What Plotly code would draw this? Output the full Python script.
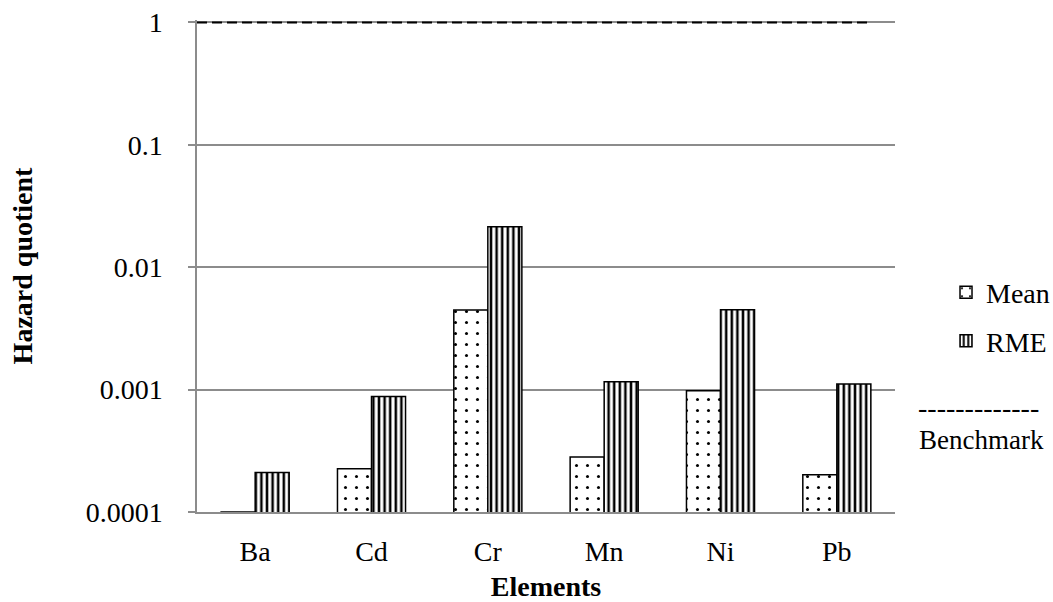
import plotly.graph_objects as go

# Hazard quotients per element
categories = ["Ba", "Cd", "Cr", "Mn", "Ni", "Pb"]
mean_hq = [0.0001, 0.000226, 0.00448, 0.000281, 0.000978, 0.000202]
rme_hq = [0.00021, 0.00088, 0.0214, 0.00116, 0.0045, 0.00111]
benchmark_hq = 1.0

tick_vals = [0.0001, 0.001, 0.01, 0.1, 1]
tick_text = ["0.0001", "0.001", "0.01", "0.1", "1"]

SERIF = "Liberation Serif"
GRID = "#8c8c8c"

fig = go.Figure()

fig.add_trace(go.Bar(
    name="Mean", x=categories, y=mean_hq, legendgroup="mean",
    marker=dict(
        color="white",
        line=dict(color="black", width=1.5),
        pattern=dict(shape=".", size=11, solidity=0.06,
                     fgcolor="black", bgcolor="white", fillmode="replace"),
    ),
))
fig.add_trace(go.Bar(
    name="RME", x=categories, y=rme_hq, legendgroup="rme",
    marker=dict(
        color="white",
        line=dict(color="black", width=1.5),
        pattern=dict(shape="|", size=5.6, solidity=0.45,
                     fgcolor="black", bgcolor="white", fillmode="replace"),
    ),
))

# Benchmark line drawn on an overlaid unit axis spanning the plot width
fig.add_trace(go.Scatter(
    x=[0.0, 0.96], y=[benchmark_hq, benchmark_hq], xaxis="x2",
    mode="lines", line=dict(color="black", width=2, dash="10px,5px"),
    showlegend=False, hoverinfo="skip",
))

fig.update_layout(
    width=1053, height=602,
    margin=dict(l=197, r=158, t=20, b=90, autoexpand=False),
    paper_bgcolor="white", plot_bgcolor="white",
    font=dict(family=SERIF, size=28, color="black"),
    barmode="group", bargap=0.415, bargroupgap=0,
    xaxis=dict(
        automargin=False,
        showline=True, linecolor=GRID, linewidth=1.5,
        ticks="", showgrid=False,
        tickfont=dict(family=SERIF, size=28),
        ticklabelstandoff=14,
        title=dict(text="<b>Elements</b>", font=dict(family=SERIF, size=28), standoff=15),
    ),
    xaxis2=dict(overlaying="x", range=[0, 1], visible=False),
    yaxis=dict(
        automargin=False,
        type="log", range=[-4, 0.02],
        tickvals=tick_vals, ticktext=tick_text,
        showgrid=True, gridcolor=GRID, gridwidth=1.5,
        showline=True, linecolor=GRID, linewidth=1.5,
        ticks="outside", ticklen=7, tickcolor=GRID, tickwidth=1.5,
        tickfont=dict(family=SERIF, size=28),
        ticklabelstandoff=20,
        zeroline=False,
        title=dict(text="<b>Hazard quotient</b>", font=dict(family=SERIF, size=28), standoff=45),
    ),
    legend=dict(
        xref="container", yref="container",
        x=0.8984, xanchor="left", y=0.5555, yanchor="top",
        font=dict(family=SERIF, size=28),
        tracegroupgap=9, bgcolor="rgba(0,0,0,0)",
    ),
    annotations=[
        dict(text="-------------", xref="paper", yref="paper", x=1.1196, y=0.2114,
             xanchor="center", yanchor="middle",
             showarrow=False, font=dict(family=SERIF, size=28)),
        dict(text="Benchmark", xref="paper", yref="paper", x=1.1246, y=0.1463,
             xanchor="center", yanchor="middle",
             showarrow=False, font=dict(family=SERIF, size=27)),
    ],
)

fig.write_html("out.html")
